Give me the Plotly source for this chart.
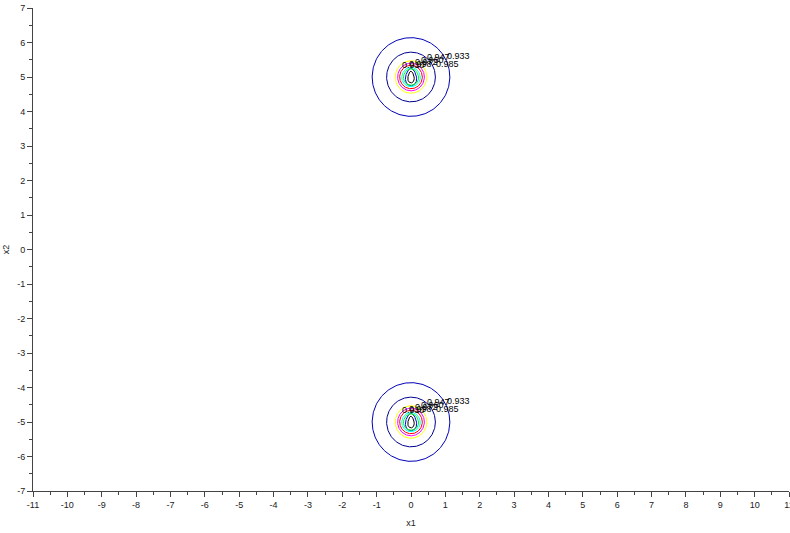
import numpy as np
import plotly.graph_objects as go

# contour centres (x1, x2)
centres_x = [0.0, 0.0]
centres_y = [5.0, -5.0]

# contour levels, innermost first, with half-widths / half-heights (data units)
levels = [0.910, 0.922, 0.933, 0.947, 0.960, 0.972, 0.985, 0.990, 0.995, 0.998]
radius_x = [0.09, 0.16, 0.22, 0.27, 0.33, 0.39, 0.46, 0.57, 0.71, 1.13]
radius_y = [0.17, 0.25, 0.24, 0.28, 0.34, 0.40, 0.47, 0.58, 0.72, 1.14]
egg = [0.3, 0.25, 0.08, 0.05, 0.0, 0.0, 0.0, 0.0, 0.0, 0.0]
colors = ["#000000", "#0000ff", "#00ff00", "#00ffff", "#ff0000", "#ff00ff",
          "#ffff00", "#ffffff", "#00008f", "#0000b8"]

# contour label texts and their offsets from centre (data units)
label_text = ["0.933", "0.947", "0.960", "0.972", "0.985", "0.998", "0.910"]
label_dx = [1.37, 0.80, 0.62, 0.46, 1.05, 0.28, 0.08]
label_dy = [0.61, 0.58, 0.50, 0.43, 0.38, 0.38, 0.35]

x_ticks = list(range(-11, 12))
y_ticks = list(range(-7, 8))

fig = go.Figure()
t = np.linspace(0, 2 * np.pi, 241)
for cx, cy in zip(centres_x, centres_y):
    for lv, rx, ry, e, c in zip(levels, radius_x, radius_y, egg, colors):
        xs = cx + rx * np.cos(t) * (1 - e * np.sin(t))
        ys = cy + ry * np.sin(t)
        fig.add_trace(go.Scatter(x=xs, y=ys, mode="lines",
                                 line=dict(color=c, width=1),
                                 hoverinfo="skip", showlegend=False, name=str(lv)))
    for txt, dx, dy in zip(label_text, label_dx, label_dy):
        fig.add_annotation(x=cx + dx, y=cy + dy, text=txt, showarrow=False,
                           font=dict(family="Liberation Sans, Arial", size=9, color="#000000"),
                           xanchor="center", yanchor="middle")

axis_common = dict(showline=True, linecolor="#444444", linewidth=1, mirror=False,
                   ticks="outside", ticklen=5, tickcolor="#444444", tickwidth=1,
                   showgrid=False, zeroline=False, automargin=False,
                   tickfont=dict(family="Liberation Sans, Arial", size=9, color="#222222"),
                   minor=dict(ticks="outside", ticklen=3, dtick=0.5, tickcolor="#444444", showgrid=False))

fig.update_xaxes(range=[-11, 11], tickvals=x_ticks, ticktext=[str(v) for v in x_ticks],
                 ticklabeloverflow="allow",
                 title=dict(text="x1", font=dict(family="Liberation Sans, Arial", size=9, color="#222222"),
                            standoff=10),
                 **axis_common)
fig.update_yaxes(range=[-7, 7], tickvals=y_ticks, ticktext=[str(v) for v in y_ticks],
                 ticklabeloverflow="allow",
                 title=dict(text="x2", font=dict(family="Liberation Sans, Arial", size=9, color="#222222"),
                            standoff=6),
                 **axis_common)

fig.update_layout(width=790, height=533, margin=dict(l=33, r=1, t=8, b=42),
                  plot_bgcolor="white", paper_bgcolor="white", showlegend=False)

fig.write_html("out.html", config={"displayModeBar": False},
               post_script="document.body.style.margin='0';")
